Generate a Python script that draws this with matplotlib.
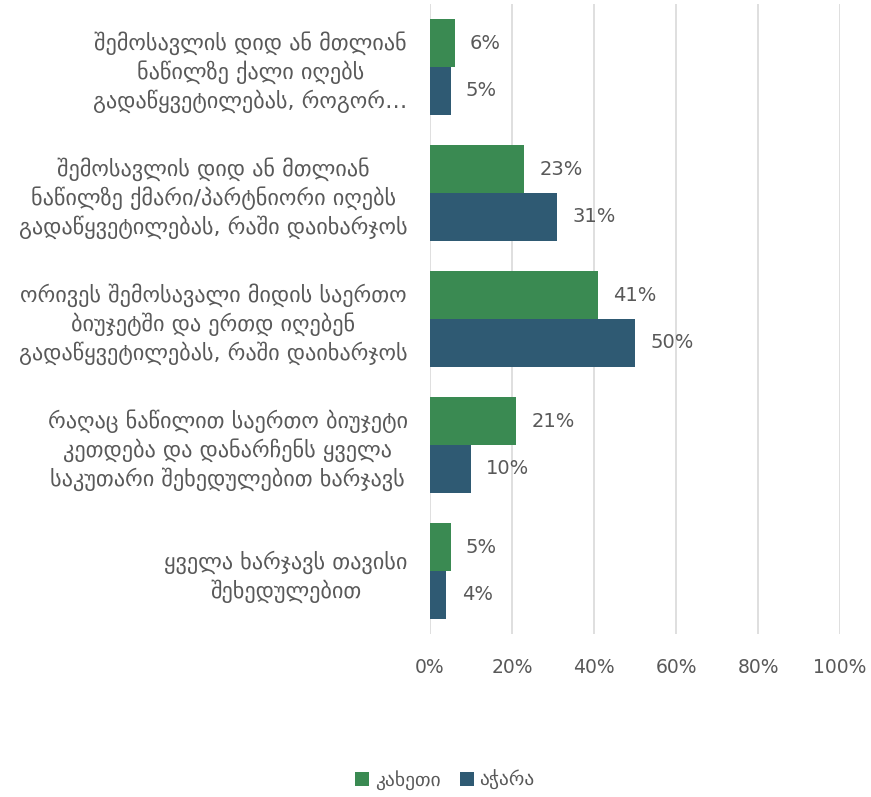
import matplotlib
matplotlib.use('Agg')
import matplotlib.pyplot as plt
import numpy as np

plt.rcParams['font.family'] = ['DejaVu Sans']

categories = [
    'შემოსავლის დიდ ან მთლიან\nნაწილზე ქალი იღებს\nგადაწყვეტილებას, როგორ…',
    'შემოსავლის დიდ ან მთლიან\nნაწილზე ქმარი/პარტნიორი იღებს\nგადაწყვეტილებას, რაში დაიხარჯოს',
    'ორივეს შემოსავალი მიდის საერთო\nბიუჯეტში და ერთდ იღებენ\nგადაწყვეტილებას, რაში დაიხარჯოს',
    'რაღაც ნაწილით საერთო ბიუჯეტი\nკეთდება და დანარჩენს ყველა\nსაკუთარი შეხედულებით ხარჯავს',
    'ყველა ხარჯავს თავისი\nშეხედულებით',
]
series_names = ['კახეთი', 'აჭარა']
kakheti = [6, 23, 41, 21, 5]
adjara = [5, 31, 50, 10, 4]
xticks = [0, 20, 40, 60, 80, 100]

GREEN = '#3a8a52'
BLUE = '#2f5a73'
TXT = '#595959'

fig = plt.figure(figsize=(8.71, 7.97), dpi=100)
ax = fig.add_axes([430 / 871, 1 - 634 / 797, 410 / 871, 630 / 797])

y = np.arange(len(categories))
h = 0.38
b1 = ax.barh(y - h / 2, kakheti, height=h, color=GREEN, label=series_names[0], zorder=3)
b2 = ax.barh(y + h / 2, adjara, height=h, color=BLUE, label=series_names[1], zorder=3)

for bars, vals in ((b1, kakheti), (b2, adjara)):
    for bar, v in zip(bars, vals):
        ax.annotate(f'{v}%', (bar.get_width(), bar.get_y() + bar.get_height() / 2),
                    xytext=(11, 0), textcoords='offset points', va='center',
                    ha='left', fontsize=14, color=TXT)

ax.set_xlim(0, 100)
ax.set_ylim(len(categories) - 0.5, -0.5)
ax.set_xticks(xticks)
ax.set_xticklabels([f'{t}%' for t in xticks], fontsize=13.5, color=TXT)
ax.set_yticks(y)
ax.set_yticklabels(categories, fontsize=16, color=TXT, ha='right',
                   multialignment='center', linespacing=1.3)
ax.tick_params(axis='y', length=0, pad=16)
ax.tick_params(axis='x', length=0, pad=17)
ax.grid(axis='x', color='#d9d9d9', linewidth=1.2, zorder=0)
for s in ax.spines.values():
    s.set_visible(False)

fig.legend(handles=[b1, b2], labels=series_names, loc='center', bbox_to_anchor=(445 / 871, 1 - 780 / 797),
           ncol=2, frameon=False, fontsize=14, handlelength=0.7, handleheight=0.7,
           handletextpad=0.3, columnspacing=1.0, labelcolor=TXT)

fig.savefig('out.png', dpi=100)
